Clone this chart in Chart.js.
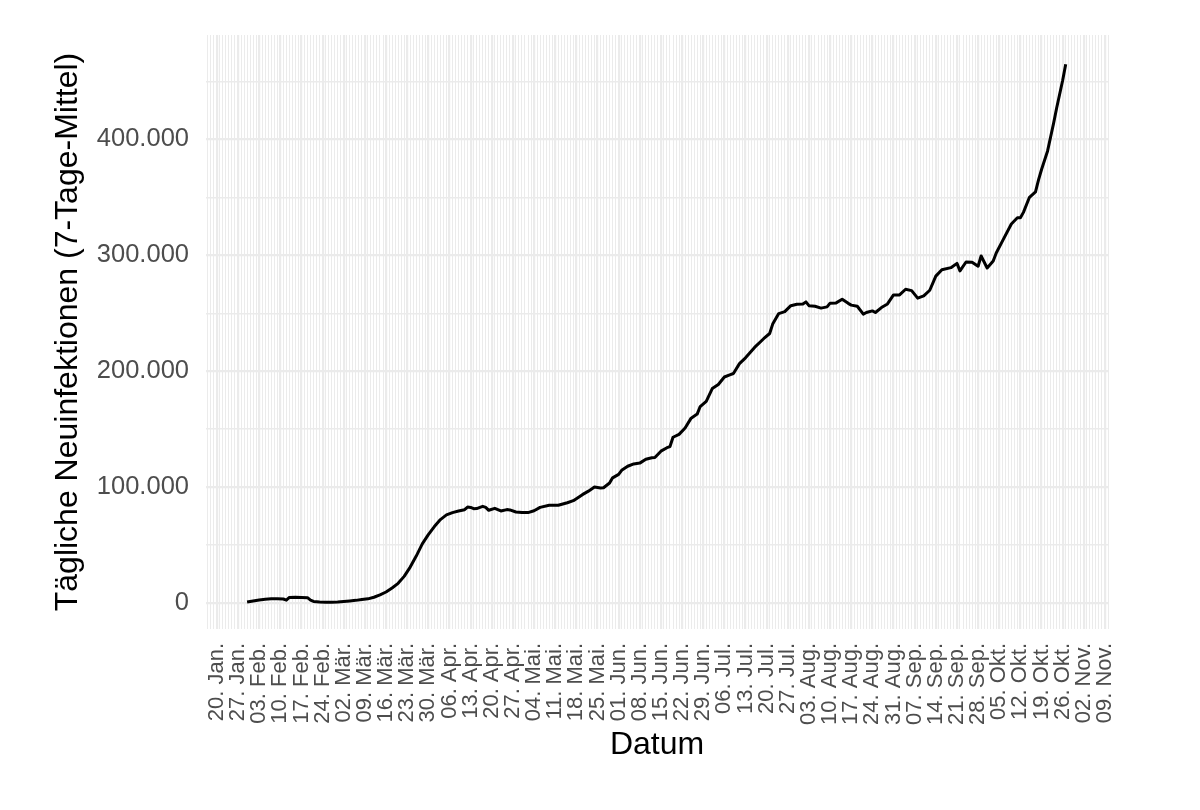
<!DOCTYPE html>
<html>
<head>
<meta charset="utf-8">
<script src="https://cdn.jsdelivr.net/npm/chart.js@4.4.1/dist/chart.umd.min.js"></script>
<style>
  html, body { margin: 0; padding: 0; background: #fff; }
  #wrap { width: 1200px; height: 810px; position: relative; }
</style>
</head>
<body>
<div id="wrap"><canvas id="casesChart"></canvas></div>
<script>
// Tägliche Neuinfektionen weltweit (7-Tage-Mittel), 2020
// x = Tage seit 20. Jan. 2020

const dayIndex = [
  10, 12, 14, 16, 18, 20, 22, 23, 24, 26, 28, 30, 31, 32, 34, 36, 38, 40, 42, 44,
  46, 48, 50, 52, 54, 56, 58, 60, 62, 64, 66, 68, 70, 72, 74, 76, 78, 80, 82, 83,
  84, 85, 86, 88, 89, 90, 92, 94, 96, 97, 99, 101, 103, 105, 107, 110, 113, 116, 118, 121,
  123, 125, 127, 128, 130, 131, 133, 134, 136, 138, 140, 142, 144, 145, 147, 149, 150, 151, 153, 155,
  157, 159, 160, 162, 164, 166, 168, 170, 171, 173, 175, 178, 181, 183, 184, 186, 188, 190, 192, 194,
  195, 196, 198, 200, 202, 203, 205, 207, 209, 210, 212, 214, 215, 217, 218, 220, 222, 224, 226, 228,
  230, 232, 234, 236, 238, 240, 243, 245, 246, 248, 250, 252, 253, 255, 257, 258, 260, 263, 265, 266,
  267, 269, 271, 272, 273, 275, 276, 277, 278, 280, 281
];

const newCasesAvg = [
  900, 1800, 2600, 3200, 3600, 3800, 3500, 2500, 4800, 4900, 4800, 4600, 2500, 1400, 900, 600, 700, 900, 1300, 1800,
  2300, 3000, 3600, 5000, 7000, 9500, 13000, 17000, 23000, 31000, 40500, 51000, 59000, 66000, 72000, 76000, 78000, 79400, 80500, 82800,
  82500, 81400, 81500, 83400, 82500, 80000, 81700, 79400, 80600, 80300, 78500, 78200, 78000, 79600, 82500, 84300, 84300, 86500, 88300, 93500,
  96500, 100000, 99300, 99400, 103500, 108000, 111000, 114500, 118000, 120000, 120700, 124000, 125300, 125500, 131000, 134000, 135000, 143000, 145500, 151000,
  159500, 163000, 169500, 174000, 185000, 188500, 195000, 197000, 198000, 206500, 211500, 220500, 228000, 232500, 240600, 249700, 251400, 256500, 257800, 258000,
  259800, 256500, 256000, 254400, 255500, 258700, 258900, 262000, 258500, 257000, 256000, 249200, 250600, 252000, 250600, 254900, 258000, 265800, 265800, 270700,
  269500, 263000, 264900, 269800, 282000, 287500, 289300, 293000, 286500, 294200, 294000, 290500, 299400, 289000, 295000, 302000, 312000, 327000, 332300, 332300,
  337000, 350000, 354700, 365000, 374000, 390000, 402000, 414000, 427000, 451000, 464800
];

// Wochen-Ticks (alle 7 Tage ab Tag 0)
const weekTickLabels = [
  "20. Jan.", "27. Jan.", "03. Feb.", "10. Feb.", "17. Feb.", "24. Feb.", "02. Mär.", "09. Mär.",
  "16. Mär.", "23. Mär.", "30. Mär.", "06. Apr.", "13. Apr.", "20. Apr.", "27. Apr.", "04. Mai.",
  "11. Mai.", "18. Mai.", "25. Mai.", "01. Jun.", "08. Jun.", "15. Jun.", "22. Jun.", "29. Jun.",
  "06. Jul.", "13. Jul.", "20. Jul.", "27. Jul.", "03. Aug.", "10. Aug.", "17. Aug.", "24. Aug.",
  "31. Aug.", "07. Sep.", "14. Sep.", "21. Sep.", "28. Sep.", "05. Okt.", "12. Okt.", "19. Okt.",
  "26. Okt.", "02. Nov.", "09. Nov."
];

const yTickValues = [0, 100000, 200000, 300000, 400000];
const yMinorValues = [50000, 150000, 250000, 350000, 450000];

const GRID = "#EBEBEB";
const FONT = "'Liberation Sans', Arial, Helvetica, sans-serif";

function fmtDE(v) {
  return String(v).replace(/\B(?=(\d{3})+(?!\d))/g, ".");
}

const points = dayIndex.map((d, i) => ({ x: d, y: newCasesAvg[i] }));

new Chart(document.getElementById("casesChart").getContext("2d"), {
  type: "line",
  data: {
    datasets: [{
      data: points,
      borderColor: "#000",
      borderWidth: 3,
      pointRadius: 0,
      tension: 0,
      borderJoinStyle: "round",
    }]
  },
  options: {
    responsive: true,
    maintainAspectRatio: false,
    animation: false,
    events: [],
    layout: { padding: { left: 0, right: 92, top: 35, bottom: 0 } },
    plugins: { legend: { display: false }, tooltip: { enabled: false } },
    scales: {
      x: {
        type: "linear",
        min: -3.6,
        max: 295,
        border: { display: false },
        afterFit: (s) => { s.height = 181; },
        // one gridline per day, labelled once a week
        afterBuildTicks: (s) => {
          const t = [];
          for (let d = -3; d <= 295; d++) t.push({ value: d });
          s.ticks = t;
        },
        grid: {
          drawTicks: false,
          color: GRID,
          lineWidth: (ctx) => {
            const v = ctx.tick ? ctx.tick.value : 1;
            return (v >= 0 && v % 7 === 0) ? 2.2 : 1;
          },
        },
        ticks: {
          autoSkip: false,
          minRotation: 90,
          maxRotation: 90,
          padding: 14,
          color: "#4D4D4D",
          font: { family: FONT, size: 22 },
          callback: (v) => (v >= 0 && v % 7 === 0) ? (weekTickLabels[v / 7] || "") : "",
        },
        title: {
          display: true,
          text: "Datum",
          color: "#000",
          font: { family: FONT, size: 32 },
          padding: { top: 0, bottom: 46 },
        },
      },
      y: {
        min: -22400,
        max: 490000,
        border: { display: false },
        afterFit: (s) => { s.width = 206; },
        afterBuildTicks: (s) => {
          s.ticks = yTickValues.concat(yMinorValues).sort((a, b) => a - b).map(v => ({ value: v }));
        },
        grid: {
          drawTicks: false,
          color: GRID,
          lineWidth: (ctx) => {
            const v = ctx.tick ? ctx.tick.value : 0;
            return yTickValues.includes(v) ? 2.2 : 1.4;
          },
        },
        ticks: {
          autoSkip: false,
          padding: 17,
          color: "#4D4D4D",
          font: { family: FONT, size: 25.5 },
          callback: (v) => yTickValues.includes(v) ? fmtDE(v) : "",
        },
        title: {
          display: true,
          text: "Tägliche Neuinfektionen (7-Tage-Mittel)",
          color: "#000",
          font: { family: FONT, size: 32 },
          padding: { top: 49, bottom: 0 },
        },
      },
    },
  },
});
</script>
</body>
</html>
